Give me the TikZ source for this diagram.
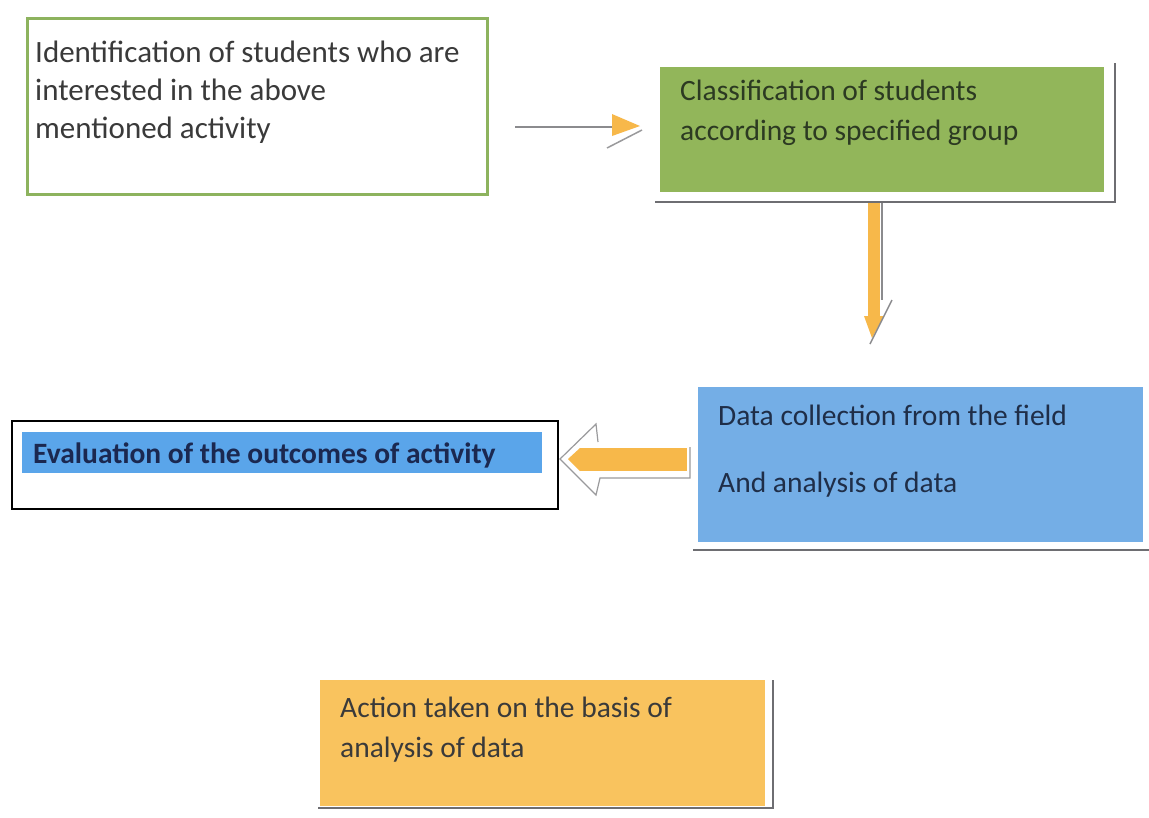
\documentclass[tikz,border=0pt]{standalone}
\usepackage{fontspec}
\setmainfont{Carlito}
\usetikzlibrary{arrows.meta}
\definecolor{grnline}{HTML}{8DB35E}
\definecolor{grnfill}{HTML}{92B65A}
\definecolor{bluefill}{HTML}{74AEE6}
\definecolor{hiblue}{HTML}{5AA5EA}
\definecolor{orfill}{HTML}{F9C35E}
\definecolor{ortip}{HTML}{F7B84A}
\definecolor{shade}{HTML}{6E6E72}
\definecolor{txtdark}{HTML}{3A3A3A}
\definecolor{txtgrn}{HTML}{2C3A22}
\definecolor{txtblue}{HTML}{1F2E48}
\definecolor{txtnavy}{HTML}{1B2850}
\tikzset{
  boxfill/.style={anchor=north west, inner sep=0pt, outer sep=0pt},
  line/.style={anchor=base west, inner sep=0pt, font=\fontsize{29.5}{34}\selectfont},
  bigline/.style={line, font=\fontsize{31}{36}\selectfont},
  shadowline/.style={draw=shade, line width=1.2pt},
}
\begin{document}
\begin{tikzpicture}[x=1pt,y=-1pt]
\useasboundingbox (0,0) rectangle (1149,817);
\fill[white] (0,0) rectangle (1149,817);

% Box 1
\node[boxfill, draw=grnline, line width=3pt, fill=white, minimum width=460pt, minimum height=176pt] (b1) at (27,18) {};
\node[bigline, text=txtdark] (t1a) at (35,62) {Identification of students who are};
\node[bigline, text=txtdark] (t1b) at (35,100) {interested in the above};
\node[bigline, text=txtdark] (t1c) at (35,138) {mentioned activity};

% Box 2 (green)
\draw[shadowline] (655,202) -- (1115,202) -- (1115,63);
\node[boxfill, fill=grnfill, minimum width=444pt, minimum height=125pt] (b2) at (660,67) {};
\node[line, text=txtgrn] (t2a) at (680,100) {Classification of students};
\node[line, text=txtgrn] (t2b) at (680,140) {according to specified group};

% Box 3 (blue)
\draw[shadowline] (693,550) -- (1149,550);
\node[boxfill, fill=bluefill, minimum width=445pt, minimum height=155pt] (b3) at (698,387) {};
\node[line, text=txtblue] (t3a) at (718,425) {Data collection from the field};
\node[line, text=txtblue] (t3b) at (718,492) {And analysis of data};

% Box 4 (evaluation)
\node[boxfill, draw=black, line width=1.6pt, fill=white, minimum width=546pt, minimum height=88pt] (b4) at (12,421) {};
\fill[hiblue] (22,432) rectangle (542,473);
\node[line, font=\bfseries\fontsize{29.5}{34}\selectfont, text=txtnavy] (t4) at (33,463) {Evaluation of the outcomes of activity};

% Box 5 (orange)
\draw[shadowline] (318,808) -- (773,808) -- (773,680);
\node[boxfill, fill=orfill, minimum width=445pt, minimum height=126pt] (b5) at (320,680) {};
\node[line, text=txtdark] (t5a) at (340,717) {Action taken on the basis of};
\node[line, text=txtdark] (t5b) at (340,757) {analysis of data};

% Arrow 1: b1 -> b2
\coordinate (a1e) at (612,127);
\coordinate (a1s) at ([xshift=28pt]b1.east |- a1e);
\draw[shade!80, line width=1.5pt] (a1s) -- (a1e);
\fill[ortip] (612,114) -- (640,126) -- (612,136) -- cycle;
\draw[shade!70, line width=1.5pt] (607,148) -- (642,130);

% Arrow 2: b2 -> b3 (down)
\fill[ortip] (868,203) rectangle (880,318);
\fill[ortip] (864,316) -- (884,316) -- (872,338) -- cycle;
\draw[shade!80, line width=1.2pt] (882,203) -- (882,300);
\draw[shade!80, line width=1.5pt] (892,300) -- (870,344);

% Arrow 3: b3 -> b4 (left block arrow)
\draw[shade!70, line width=1.2pt] (690,447) -- (690,478) -- (600,478) -- (596,495) -- (560,459) -- (596,424) -- (598,442);
\fill[ortip] (580,448) rectangle (687,471);
\fill[ortip] (580,448) -- (580,471) -- (568,459) -- cycle;
\end{tikzpicture}
\end{document}
